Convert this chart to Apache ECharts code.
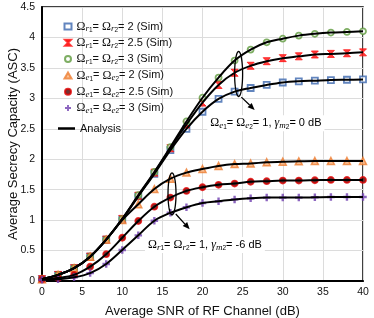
<!DOCTYPE html>
<html><head><meta charset="utf-8">
<script src="https://cdn.jsdelivr.net/npm/echarts@6/dist/echarts.min.js"></script>
<style>html,body{margin:0;padding:0;background:#fff}#c{width:374px;height:318px}</style>
</head><body><div id="c"></div>
<script>
const snr = [0,2,4,6,8,10,12,14,16,18,20,22,24,26,28,30,32,34,36,38,40];
const xTicks = [0,5,10,15,20,25,30,35,40];
const yTicks = [0,0.5,1,1.5,2,2.5,3,3.5,4,4.5];
const asc_r2   = [0.03,0.10,0.21,0.40,0.68,1.01,1.39,1.76,2.15,2.50,2.78,2.99,3.11,3.17,3.22,3.26,3.28,3.29,3.30,3.305,3.31];
const asc_r25  = [0.03,0.10,0.21,0.40,0.68,1.02,1.40,1.78,2.18,2.57,2.93,3.22,3.42,3.535,3.61,3.66,3.69,3.72,3.73,3.74,3.755];
const asc_r3   = [0.03,0.10,0.21,0.40,0.68,1.02,1.41,1.79,2.20,2.62,3.01,3.34,3.62,3.80,3.92,3.98,4.03,4.06,4.08,4.09,4.10];
const asc_e2   = [0.03,0.10,0.21,0.40,0.68,1.00,1.26,1.51,1.68,1.78,1.84,1.89,1.92,1.93,1.95,1.96,1.965,1.97,1.97,1.97,1.97];
const asc_e25  = [0.03,0.05,0.10,0.235,0.44,0.71,0.985,1.22,1.37,1.48,1.54,1.58,1.60,1.63,1.64,1.65,1.65,1.655,1.66,1.66,1.66];
const asc_e3   = [0.02,0.03,0.06,0.13,0.28,0.51,0.75,0.99,1.12,1.21,1.28,1.31,1.34,1.36,1.37,1.37,1.37,1.375,1.38,1.38,1.38];

const rich = {
  om: {fontFamily:'Liberation Serif', fontSize:12, lineHeight:14, verticalAlign:'middle', color:'#111'},
  s1: {fontFamily:'Liberation Serif', fontStyle:'italic', fontSize:9, lineHeight:9, verticalAlign:'bottom', color:'#111'},
  s2: {fontFamily:'Liberation Sans', fontSize:6.5, lineHeight:6, verticalAlign:'bottom', color:'#111'},
  t:  {fontFamily:'Liberation Sans', fontSize:11, lineHeight:14, verticalAlign:'middle', color:'#111'}
};
function sym(ch, sub, idx){ return '{om|' + ch + '}{s1|' + sub + '}{s2|' + idx + '}'; }
const names = ['r2','r25','r3','e2','e25','e3'];
const labels = {
  r2:  sym('Ω','r','1') + '{t|= }' + sym('Ω','r','2') + '{t|= 2 (Sim)}',
  r25: sym('Ω','r','1') + '{t|= }' + sym('Ω','r','2') + '{t|= 2.5 (Sim)}',
  r3:  sym('Ω','r','1') + '{t|= }' + sym('Ω','r','2') + '{t|= 3 (Sim)}',
  e2:  sym('Ω','e','1') + '{t|= }' + sym('Ω','e','2') + '{t|= 2 (Sim)}',
  e25: sym('Ω','e','1') + '{t|= }' + sym('Ω','e','2') + '{t|= 2.5 (Sim)}',
  e3:  sym('Ω','e','1') + '{t|= }' + sym('Ω','e','2') + '{t|= 3 (Sim)}',
  Analysis: '{t|Analysis}'
};
const dataSets = {r2:asc_r2, r25:asc_r25, r3:asc_r3, e2:asc_e2, e25:asc_e25, e3:asc_e3};
const styles = {
  r2:  {symbol:'rect', size:6, itemStyle:{color:'#ffffff', borderColor:'#3b66ae', borderWidth:1.8}},
  r25: {symbol:'path://M0,0 L10,0 L5,5 L10,10 L0,10 L5,5 Z', size:7, itemStyle:{color:'#ff1010', borderColor:'#ff1010', borderWidth:1}},
  r3:  {symbol:'circle', size:6, itemStyle:{color:'#ffffff', borderColor:'#5e9a3c', borderWidth:1.8}},
  e2:  {symbol:'triangle', size:7, itemStyle:{color:'#f8b07a', borderColor:'#ee7d31', borderWidth:1.5}},
  e25: {symbol:'circle', size:6, itemStyle:{color:'#500000', borderColor:'#e00000', borderWidth:1.8}},
  e3:  {symbol:'path://M3.4,0 H6.6 V3.4 H10 V6.6 H6.6 V10 H3.4 V6.6 H0 V3.4 H3.4 Z', size:7.5, itemStyle:{color:'#7040b0'}}
};
const series = [];
names.forEach(n => {
  series.push({
    name: n, type: 'scatter', z: 2,
    data: snr.map((x,i) => [x, dataSets[n][i]]),
    symbol: styles[n].symbol, symbolSize: styles[n].size, itemStyle: styles[n].itemStyle
  });
});
names.forEach(n => {
  series.push({
    name: 'Analysis', type: 'line', z: 3, smooth: 0.35, showSymbol: false, symbol: 'none',
    data: snr.map((x,i) => [x, dataSets[n][i]]),
    lineStyle: {color:'#000', width:2}, itemStyle:{color:'#000'}
  });
});

const chart = echarts.init(document.getElementById('c'), null, {renderer:'canvas'});
chart.setOption({
  animation: false,
  backgroundColor: '#fff',
  grid: {left:42, right:11, top:7, bottom:37, show:true, borderColor:'#000', borderWidth:1.5, outerBoundsMode:'none'},
  xAxis: {
    type:'value', min:0, max:40, interval:5,
    name:'Average SNR of RF Channel (dB)', nameLocation:'middle', nameGap:24, nameMoveOverlap:false,
    nameTextStyle:{fontFamily:'Liberation Sans', fontSize:13, color:'#111'},
    axisLine:{show:true, lineStyle:{color:'#000', width:2}}, axisTick:{show:false},
    axisLabel:{fontFamily:'Liberation Sans', fontSize:10.5, color:'#111', margin:6,
      formatter: v => xTicks.includes(v) ? String(v) : ''},
    splitLine:{show:true, lineStyle:{color:'#dcdcdc', width:1}}
  },
  yAxis: {
    type:'value', min:0, max:4.5, interval:0.5,
    name:'Average Secrecy Capacity (ASC)', nameLocation:'middle', nameGap:22, nameMoveOverlap:false,
    nameTextStyle:{fontFamily:'Liberation Sans', fontSize:13, color:'#111'},
    axisLine:{show:true, lineStyle:{color:'#000', width:2}}, axisTick:{show:false},
    axisLabel:{fontFamily:'Liberation Sans', fontSize:10.5, color:'#111', margin:7,
      formatter: v => yTicks.includes(v) ? String(v) : ''},
    splitLine:{show:true, lineStyle:{color:'#dcdcdc', width:1}}
  },
  legend: [{
    orient:'vertical', left:58.5, top:15.5, itemWidth:7, itemHeight:6, itemGap:3.3,
    data: names,
    formatter: n => labels[n],
    textStyle: {rich: rich, fontSize:11, fontFamily:'Liberation Sans'}
  }, {
    orient:'vertical', left:53, top:118, itemWidth:17, itemHeight:2.5,
    data: [{name:'Analysis', icon:'rect'}],
    itemStyle: {color:'#000', borderWidth:0},
    formatter: n => labels[n],
    textStyle: {rich: rich, fontSize:11, fontFamily:'Liberation Sans'}
  }],
  series: series
});

function px(x,y){ return chart.convertToPixel({gridIndex:0},[x,y]); }
function ellipse(cx, cy, rx, ry){
  const c = px(cx, cy), pts = [];
  for (let i=0;i<72;i++){ const a=i/72*Math.PI*2; pts.push([c[0]+rx*Math.cos(a), c[1]+ry*Math.sin(a)]); }
  return {type:'polygon', shape:{points:pts}, style:{fill:'none', stroke:'#000', lineWidth:1.3}, z:10};
}
function arrow(x0,y0,x1,y1){
  const a = px(x0,y0), b = px(x1,y1);
  const ang = Math.atan2(b[1]-a[1], b[0]-a[0]), L=7, W=3;
  const bx = b[0]-L*Math.cos(ang), by = b[1]-L*Math.sin(ang);
  return [
    {type:'line', shape:{x1:a[0],y1:a[1],x2:bx,y2:by}, style:{stroke:'#000', lineWidth:1.3}, z:10},
    {type:'polygon', shape:{points:[[b[0],b[1]],[bx+W*Math.sin(ang), by-W*Math.cos(ang)],[bx-W*Math.sin(ang), by+W*Math.cos(ang)]]}, style:{fill:'#000'}, z:10}
  ];
}
const annRich = {
  om: {fontFamily:'Liberation Serif', fontSize:12, lineHeight:14, verticalAlign:'middle', color:'#111'},
  g:  {fontFamily:'Liberation Serif', fontStyle:'italic', fontSize:12, lineHeight:14, verticalAlign:'middle', color:'#111'},
  s1: {fontFamily:'Liberation Serif', fontStyle:'italic', fontSize:9, lineHeight:9, verticalAlign:'bottom', color:'#111'},
  s2: {fontFamily:'Liberation Sans', fontSize:6.5, lineHeight:6, verticalAlign:'bottom', color:'#111'},
  t:  {fontFamily:'Liberation Sans', fontSize:11, lineHeight:14, verticalAlign:'middle', color:'#111'}
};
function annText(x, y, str){
  const p = px(x,y);
  return {type:'text', x:p[0], y:p[1], z:11,
    style:{text:str, rich:annRich, align:'center', verticalAlign:'middle', backgroundColor:'#fff', padding:[1,3,1,3]}};
}
const lab1 = sym('Ω','e','1') + '{t|= }' + sym('Ω','e','2') + '{t|= 1, }{g|γ}{s1|m}{s2|2}{t|= 0 dB}';
const lab2 = sym('Ω','r','1') + '{t|= }' + sym('Ω','r','2') + '{t|= 1, }{g|γ}{s1|m}{s2|2}{t|= -6 dB}';
const g = [];
g.push(ellipse(24.5, 3.40, 4, 22.5));
g.push(ellipse(16.2, 1.43, 4, 21));
arrow(24.84, 3.02, 26.5, 2.81).forEach(e => g.push(e));
arrow(16.67, 1.10, 18.4, 0.85).forEach(e => g.push(e));
g.push(annText(27.9, 2.59, lab1));
g.push(annText(20.3, 0.59, lab2));
chart.setOption({graphic: g});
</script>
</body></html>
